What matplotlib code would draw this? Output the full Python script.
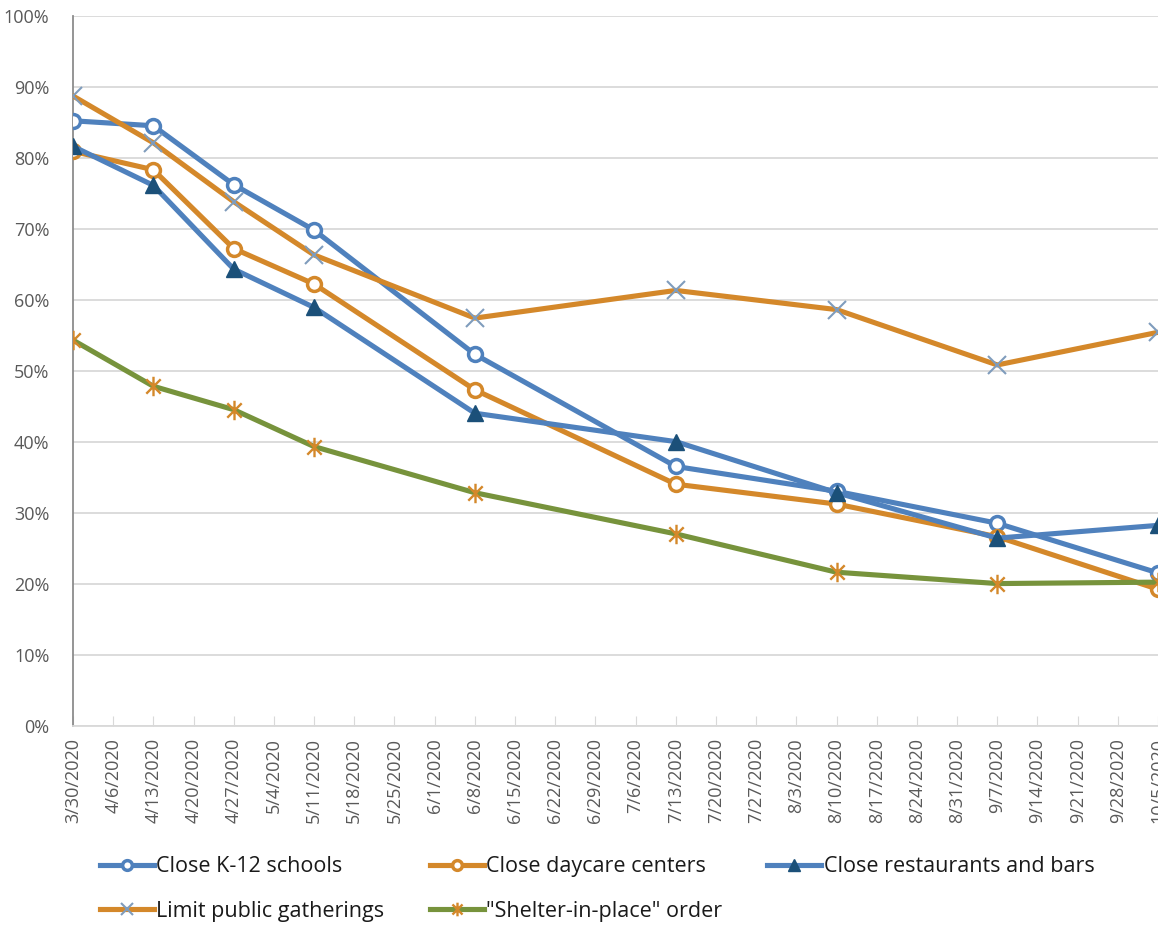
import matplotlib
matplotlib.use("Agg")
import matplotlib.pyplot as plt
from matplotlib.path import Path

plt.rcParams["font.family"] = ["Open Sans", "DejaVu Sans"]

# weekly category axis (Excel-style text dates)
week_labels = [
    "3/30/2020", "4/6/2020", "4/13/2020", "4/20/2020", "4/27/2020", "5/4/2020",
    "5/11/2020", "5/18/2020", "5/25/2020", "6/1/2020", "6/8/2020", "6/15/2020",
    "6/22/2020", "6/29/2020", "7/6/2020", "7/13/2020", "7/20/2020", "7/27/2020",
    "8/3/2020", "8/10/2020", "8/17/2020", "8/24/2020", "8/31/2020", "9/7/2020",
    "9/14/2020", "9/21/2020", "9/28/2020", "10/5/2020",
]
survey_dates = ["3/30/2020", "4/13/2020", "4/27/2020", "5/11/2020", "6/8/2020",
                "7/13/2020", "8/10/2020", "9/7/2020", "10/5/2020"]

k12_schools = [85.2, 84.5, 76.2, 69.8, 52.3, 36.5, 33.0, 28.5, 21.5]
daycare = [80.9, 78.3, 67.2, 62.2, 47.3, 34.0, 31.2, 26.6, 19.2]
restaurants = [81.6, 76.1, 64.3, 58.9, 44.0, 40.0, 32.8, 26.4, 28.2]
gatherings = [88.7, 82.1, 73.8, 66.3, 57.4, 61.3, 58.6, 50.8, 55.4]
shelter = [54.3, 47.8, 44.5, 39.3, 32.8, 27.0, 21.6, 20.0, 20.2]

BLUE = "#4f81bd"
ORANGE = "#d4882a"
NAVY = "#1b5079"
GREEN = "#77933c"
XGRAY = "#7f9cbc"

# Excel "star" marker: an x with a vertical bar through it
star = Path([(-1, -1), (1, 1), (-1, 1), (1, -1), (0, -1.35), (0, 1.35)],
            [Path.MOVETO, Path.LINETO] * 3)

xs = [week_labels.index(d) for d in survey_dates]

fig = plt.figure(figsize=(11.58, 9.26), dpi=100)
ax = fig.add_axes([0.063, 0.2165, 0.937, 0.7665])

l1, = ax.plot(xs, k12_schools, color=BLUE, lw=3.7, marker="o", ms=10,
              mfc="white", mec=BLUE, mew=2.5, label="Close K-12 schools", zorder=3)
l2, = ax.plot(xs, daycare, color=ORANGE, lw=3.7, marker="o", ms=10,
              mfc="white", mec=ORANGE, mew=2.5, label="Close daycare centers", zorder=3)
l3, = ax.plot(xs, restaurants, color=BLUE, lw=3.7, marker="^", ms=12,
              mfc=NAVY, mec=NAVY, label="Close restaurants and bars", zorder=3)
l4, = ax.plot(xs, gatherings, color=ORANGE, lw=3.7, marker="x", ms=13,
              mec=XGRAY, mew=1.5, label="Limit public gatherings", zorder=3)
l5, = ax.plot(xs, shelter, color=GREEN, lw=3.7, marker=star, ms=14,
              mec=ORANGE, mfc="none", mew=1.7, label='"Shelter-in-place" order', zorder=3)

ax.set_xlim(0, len(week_labels) - 1)
ax.set_ylim(0, 100)
ax.set_yticks(range(0, 101, 10))
ax.set_yticklabels([f"{v}%" for v in range(0, 101, 10)])
ax.set_xticks(range(len(week_labels)))
ax.set_xticklabels(week_labels, rotation=90)

ax.grid(axis="y", color="#d9d9d9", lw=1.3)
ax.set_axisbelow(True)
for side in ("top", "right"):
    ax.spines[side].set_visible(False)
ax.spines["left"].set_color("#8c8c8c")
ax.spines["left"].set_linewidth(1.3)
ax.spines["bottom"].set_color("#d9d9d9")
ax.spines["bottom"].set_linewidth(1.3)
ax.tick_params(axis="y", length=0, labelsize=13, labelcolor="#595959", pad=17)
ax.tick_params(axis="x", direction="in", length=7, color="#d9d9d9",
               labelsize=13, labelcolor="#595959", pad=9)

# column-major fill, so order handles to read row by row
handles = [l1, l4, l2, l5, l3]
fig.legend(handles=handles, labels=[h.get_label() for h in handles],
           ncol=3, loc="lower left", bbox_to_anchor=(0.078, -0.006),
           frameon=False, fontsize=15.5, handlelength=2.5, handletextpad=0.12,
           columnspacing=2.1, labelspacing=1.1, labelcolor="#1a1a1a",
           markerscale=0.7, borderaxespad=0.05)

fig.savefig("out.png", dpi=100)
